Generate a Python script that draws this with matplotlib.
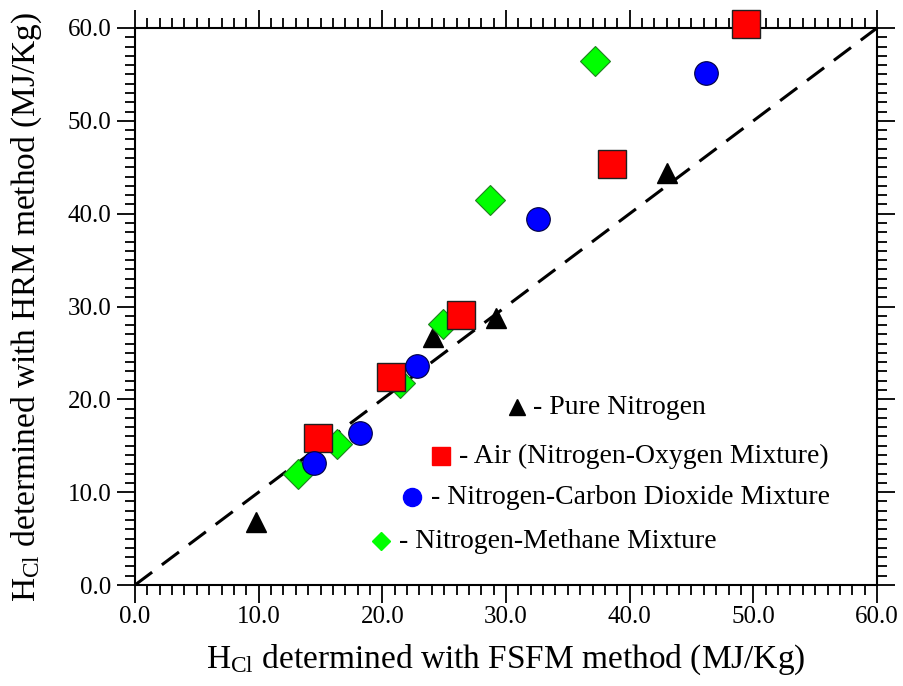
import matplotlib
matplotlib.use("Agg")
import matplotlib.pyplot as plt
from matplotlib.ticker import MultipleLocator, FormatStrFormatter

plt.rcParams['font.family'] = ['Liberation Serif', 'DejaVu Serif']
plt.rcParams['mathtext.default'] = 'regular'

# Data (FSFM x, HRM y) in MJ/Kg
n2_x = [9.8, 24.1, 29.2, 43.0]
n2_y = [6.8, 26.7, 28.8, 44.4]

air_x = [14.8, 20.7, 26.4, 38.6, 49.4]
air_y = [15.8, 22.4, 29.1, 45.4, 60.4]

co2_x = [14.5, 18.2, 22.8, 32.6, 46.2]
co2_y = [13.1, 16.4, 23.6, 39.4, 55.2]

ch4_x = [13.2, 16.3, 21.4, 24.9, 28.7, 37.2]
ch4_y = [12.0, 15.2, 21.8, 28.1, 41.5, 56.4]

line_x = [0.0, 60.0]
line_y = [0.0, 60.0]

legend_labels = ["- Pure Nitrogen",
                 "- Air (Nitrogen-Oxygen Mixture)",
                 "- Nitrogen-Carbon Dioxide Mixture",
                 "- Nitrogen-Methane Mixture"]

fig = plt.figure(figsize=(9.04, 6.86), dpi=100)
ax = fig.add_axes([135/904, 1-585/686, (877-135)/904, (585-28)/686])

ax.plot(line_x, line_y, color='black', lw=2.2, dashes=(7, 4), zorder=1)

ax.plot(n2_x, n2_y, ls='none', marker='^', ms=15, mfc='black', mec='black', zorder=3, clip_on=False)
ax.plot(ch4_x, ch4_y, ls='none', marker='D', ms=15, mfc='#00ff00', mec='#208020', mew=0.8, zorder=3, clip_on=False)
ax.plot(air_x, air_y, ls='none', marker='s', ms=20, mfc='#ff0000', mec='#202020', mew=1.0, zorder=4, clip_on=False)
ax.plot(co2_x, co2_y, ls='none', marker='o', ms=17, mfc='#0000ff', mec='#000040', mew=0.8, zorder=4, clip_on=False)

ax.set_xlim(0, 60)
ax.set_ylim(0, 60)
ax.xaxis.set_major_locator(MultipleLocator(10))
ax.xaxis.set_minor_locator(MultipleLocator(1))
ax.yaxis.set_major_locator(MultipleLocator(10))
ax.yaxis.set_minor_locator(MultipleLocator(1))
ax.xaxis.set_major_formatter(FormatStrFormatter('%.1f'))
ax.yaxis.set_major_formatter(FormatStrFormatter('%.1f'))

ax.tick_params(which='both', direction='out', top=True, right=True, width=1.3, labelsize=18, color='black')
ax.tick_params(which='major', length=13)
ax.tick_params(which='minor', length=7)
ax.tick_params(axis='x', pad=2)
ax.tick_params(axis='y', pad=4)
for s in ax.spines.values():
    s.set_linewidth(1.5)

ax.set_xlabel(r'H$_{Cl}$ determined with FSFM method (MJ/Kg)', fontsize=24)
ax.set_ylabel(r'H$_{Cl}$ determined with HRM method (MJ/Kg)', fontsize=24)
ax.xaxis.set_label_coords(0.5, -0.103)
ax.yaxis.set_label_coords(-0.122, 0.50)

# Custom staggered legend (axes fraction coordinates)
leg_markers = [dict(marker='^', ms=11, mfc='black', mec='black'),
               dict(marker='s', ms=13, mfc='#ff0000', mec='#ff0000'),
               dict(marker='o', ms=13, mfc='#0000ff', mec='#0000ff'),
               dict(marker='D', ms=9, mfc='#00ff00', mec='#00ff00')]
leg_mx = [(517-135)/742, (441-135)/742, (412-135)/742, (381-135)/742]
leg_y = [(585-407)/557, (585-456)/557, (585-497)/557, (585-541)/557]
leg_tx = [(533-135)/742, (459-135)/742, (431-135)/742, (399-135)/742]
for i in range(4):
    ax.plot([leg_mx[i]], [leg_y[i]], transform=ax.transAxes, ls='none', zorder=5, **leg_markers[i])
    ax.text(leg_tx[i], leg_y[i], legend_labels[i], transform=ax.transAxes, fontsize=20,
            va='center', ha='left')

fig.savefig('out.png', dpi=100)
